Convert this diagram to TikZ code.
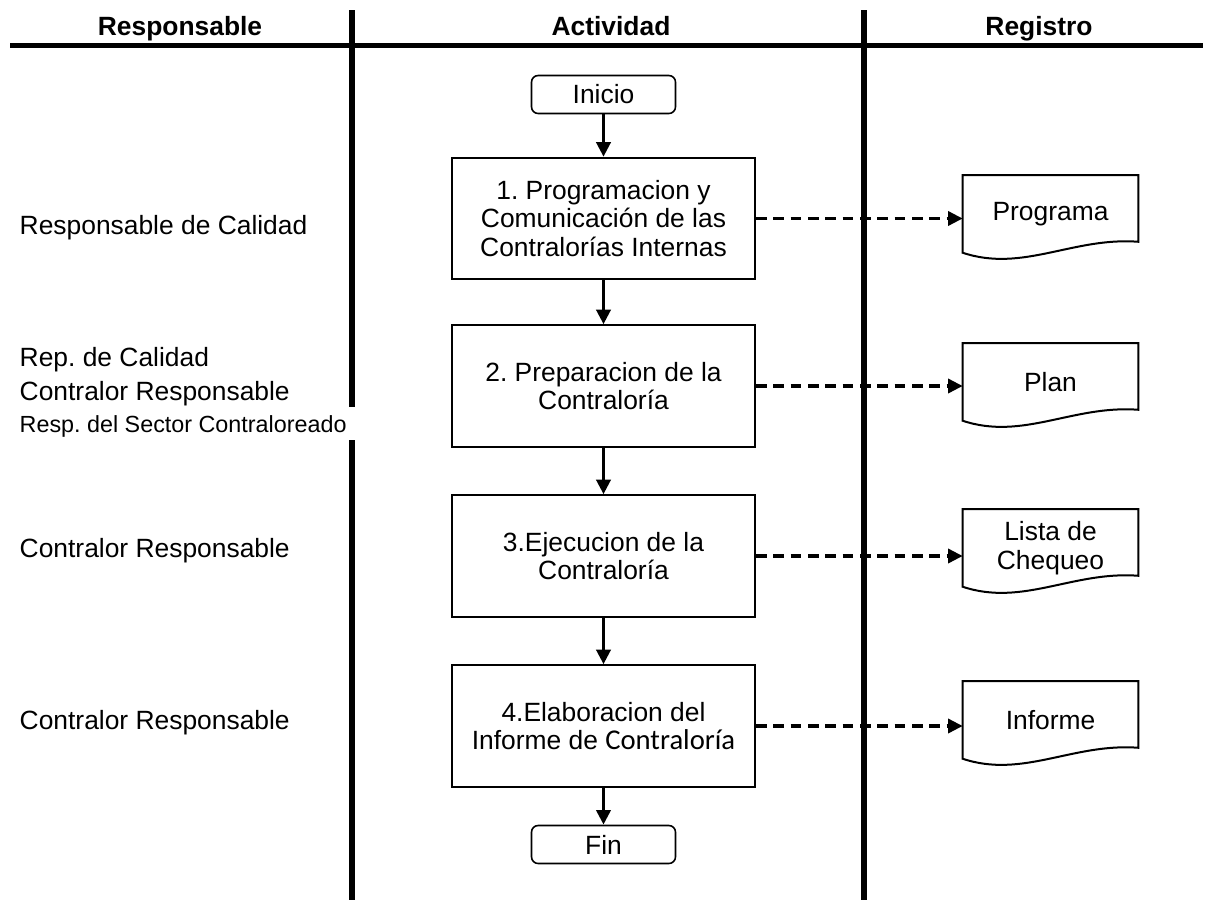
\documentclass[tikz,border=0pt]{standalone}
\usepackage{fontspec}
\setmainfont{Liberation Sans}
\newfontfamily\calibfont{Carlito}
\usetikzlibrary{arrows.meta}
\frenchspacing

\begin{document}
\begin{tikzpicture}[x=0.75pt, y=-0.75pt,
  every node/.style={font=\fontsize{19.8pt}{21.4pt}\selectfont},
  lane/.style={line width=4.5pt},
  headrule/.style={line width=3.75pt},
  headtext/.style={anchor=base, font=\fontsize{19.8pt}{21.4pt}\selectfont\bfseries},
  who/.style={anchor=base west},
  actbox/.style={draw, line width=1.5pt, minimum width=227.25pt, minimum height=91pt,
                 inner sep=0pt, align=center},
  terminal/.style={draw, line width=1.2pt, rounded corners=5pt, minimum width=108pt,
                   minimum height=28.5pt, inner sep=0pt},
  docbox/.style={minimum width=131.25pt, minimum height=60.75pt, inner sep=0pt, align=center},
  docline/.style={line width=1.5pt, line join=miter},
  flowarrow/.style={line width=2.8pt, -{Triangle[length=11pt, width=10.5pt]}},
  dasharrow/.style={line width=2.6pt, dash pattern=on 8pt off 5pt,
                    -{Triangle[length=11pt, width=10.5pt]}}
]
\useasboundingbox (0,0) rectangle (1208,900);

% column headings
\node[headtext] (hresp) at (180,35) {Responsable};
\node[headtext] (hact) at (611,35) {Actividad};
\node[headtext] (hreg) at (1039,35) {Registro};
\draw[headrule] (10,45) -- (1203,45);

% column separators (left one interrupted by the long label)
\draw[lane] (352,10) -- (352,407);
\draw[lane] (352,440) -- (352,900);
\draw[lane] (864,10) -- (864,900);

% responsible persons
\node[who] (r1) at (15,234) {Responsable de Calidad};
\node[who] (r2a) at (15,366) {Rep. de Calidad};
\node[who] (r2b) at (15,400) {Contralor Responsable};
\node[who, font=\fontsize{17.5pt}{20pt}\selectfont] (r2c) at (15,432) {Resp. del Sector Contraloreado};
\node[who] (r3) at (15,557) {Contralor Responsable};
\node[who] (r4) at (15,729) {Contralor Responsable};

% activities
\node[terminal] (ini) at (603.5,94.5) {Inicio};
\node[actbox] (b1) at (603.5,218.5) {1. Programacion y\\Comunicación de las\\Contralorías Internas};
\node[actbox] (b2) at (603.5,386) {2. Preparacion de la\\Contraloría};
\node[actbox] (b3) at (603.5,556) {3.Ejecucion de la\\Contraloría};
\node[actbox] (b4) at (603.5,726) {4.Elaboracion del\\Informe de {\calibfont\fontsize{21.5pt}{21.4pt}\selectfont Contraloría}};
\node[terminal] (fin) at (603.5,844.5) {Fin};

\draw[flowarrow] (ini) -- (b1);
\draw[flowarrow] (b1) -- (b2);
\draw[flowarrow] (b2) -- (b3);
\draw[flowarrow] (b3) -- (b4);
\draw[flowarrow] (b4) -- (fin);

% records
\node[docbox] (d1) at (1050.5,214) {Programa};
\node[docbox] (d2) at (1050.5,382) {Plan};
\node[docbox] (d3) at (1050.5,548) {Lista de\\Chequeo};
\node[docbox] (d4) at (1050.5,720) {Informe};

\foreach \d in {d1,d2,d3,d4}{
  \draw[docline] ([yshift=-1.5pt]\d.north west) -- ([yshift=-1.5pt]\d.north east)
    -- ([shift={(0,-13)}]\d.south east)
    .. controls +(-65,-5) and +(60,20) .. ([shift={(0,-2)}]\d.south west) -- cycle;
}

\draw[dasharrow] (b1.east) -- (b1.east -| d1.west);
\draw[dasharrow] (b2.east) -- (b2.east -| d2.west);
\draw[dasharrow] (b3.east) -- (b3.east -| d3.west);
\draw[dasharrow] (b4.east) -- (b4.east -| d4.west);
\end{tikzpicture}
\end{document}
